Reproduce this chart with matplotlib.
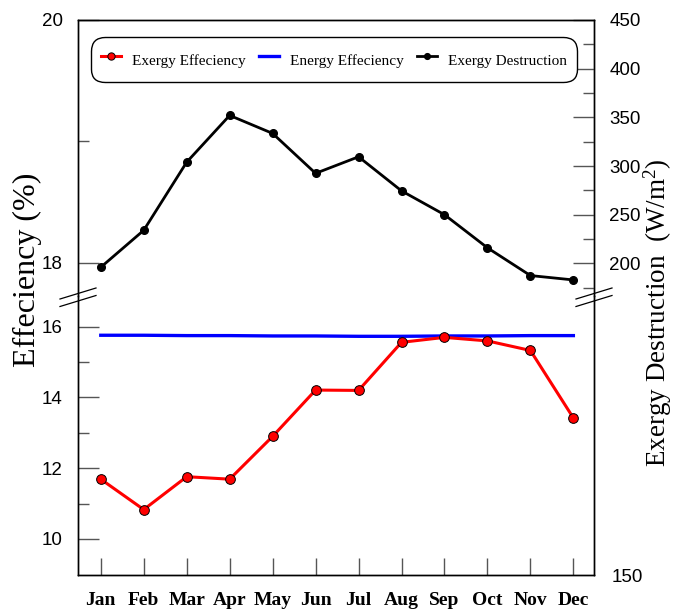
import matplotlib
matplotlib.use('Agg')
import matplotlib.pyplot as plt
from matplotlib.ticker import FixedLocator, NullLocator
from matplotlib.lines import Line2D
from matplotlib.font_manager import FontProperties

plt.rcParams['mathtext.fontset'] = 'custom'
plt.rcParams['mathtext.rm'] = 'Liberation Serif'
plt.rcParams['mathtext.it'] = 'Liberation Serif:italic'
plt.rcParams['mathtext.bf'] = 'Liberation Serif:bold'

# ---- data ----
months = ['Jan', 'Feb', 'Mar', 'Apr', 'May', 'Jun', 'Jul', 'Aug', 'Sep', 'Oct', 'Nov', 'Dec']
exergy_eff = [11.69, 10.83, 11.76, 11.69, 12.90, 14.21, 14.20, 15.56, 15.70, 15.60, 15.33, 13.42]
energy_eff = [15.76, 15.76, 15.75, 15.75, 15.74, 15.74, 15.73, 15.73, 15.74, 15.74, 15.75, 15.75]
exergy_dest = [196, 234, 304, 352, 333.5, 292.5, 309.5, 274.5, 250, 216, 187.5, 183]

left_top_major = [18, 20]
left_top_minor = [19]
left_bot_major = [10, 12, 14, 16]
left_bot_minor = [11, 13, 15]
right_major = [200, 250, 300, 350, 400, 450]
right_minor = [175, 225, 275, 325, 375, 425]
right_bot_tick = [150]

W, H = 675, 614
fig = plt.figure(figsize=(W / 100, H / 100), dpi=100)

xl, xr = 78, 594
yt, yb_, yb = 20, 296, 575
ax_top = fig.add_axes([xl / W, 1 - yb_ / H, (xr - xl) / W, (yb_ - yt) / H])
ax_bot = fig.add_axes([xl / W, 1 - yb / H, (xr - xl) / W, (yb - yb_) / H])
ax_top_r = ax_top.twinx()
ax_bot_r = ax_bot.twinx()

x = list(range(len(months)))

tick_font = FontProperties(family='Liberation Sans', size=13.5)
serif = 'Liberation Serif'
tick_col = '#555555'

# lines
l_exd, = ax_top_r.plot(x, exergy_dest, color='black', lw=2.0, marker='o', ms=5.5,
                       mfc='black', mec='black', zorder=3)
l_en, = ax_bot.plot(x, energy_eff, color='#0000ff', lw=2.4, zorder=2)
l_ex, = ax_bot.plot(x, exergy_eff, color='#ff0000', lw=2.2, marker='o', ms=7,
                    mfc='#ff0000', mec='black', mew=0.7, zorder=3)

for a in (ax_top, ax_bot, ax_top_r, ax_bot_r):
    a.set_xlim(-0.53, 11.48)
    for s in a.spines.values():
        s.set_linewidth(1.0)
        s.set_color('black')

ax_top.set_ylim(17.725, 20)
ax_bot.set_ylim(8.98, 16.87)
ax_top_r.set_ylim(166.5, 450)
ax_bot_r.set_ylim(150, 400)

# spines at the break
for a in (ax_top, ax_top_r):
    a.spines['bottom'].set_visible(False)
for a in (ax_bot, ax_bot_r):
    a.spines['top'].set_visible(False)

# x ticks
for a in (ax_top, ax_top_r):
    a.tick_params(axis='x', which='both', bottom=False, top=False, labelbottom=False)
ax_bot_r.tick_params(axis='x', which='both', bottom=False, top=False, labelbottom=False)
ax_bot.set_xticks(x)
ax_bot.set_xticklabels(months, fontfamily=serif, fontweight='bold', fontsize=14)
ax_bot.tick_params(axis='x', which='major', direction='in', length=12, width=1,
                   color=tick_col, pad=12.5, top=False)
ax_bot.xaxis.set_minor_locator(NullLocator())

# left y ticks
ax_top.yaxis.set_major_locator(FixedLocator(left_top_major))
ax_top.yaxis.set_minor_locator(FixedLocator(left_top_minor))
ax_bot.yaxis.set_major_locator(FixedLocator(left_bot_major))
ax_bot.yaxis.set_minor_locator(FixedLocator(left_bot_minor))
for a in (ax_top, ax_bot):
    a.tick_params(axis='y', which='major', direction='in', length=15, width=1,
                  color=tick_col, pad=11, right=False)
    a.tick_params(axis='y', which='minor', direction='in', length=8, width=1,
                  color=tick_col, right=False)
    for lab in a.get_yticklabels():
        lab.set_fontproperties(tick_font)

# right y ticks
ax_top_r.yaxis.set_major_locator(FixedLocator(right_major))
ax_top_r.yaxis.set_minor_locator(FixedLocator(right_minor))
ax_top_r.tick_params(axis='y', which='major', direction='in', length=15, width=1,
                     color=tick_col, pad=11)
ax_top_r.tick_params(axis='y', which='minor', direction='in', length=8, width=1,
                     color=tick_col)
ax_bot_r.yaxis.set_major_locator(FixedLocator(right_bot_tick))
ax_bot_r.yaxis.set_minor_locator(NullLocator())
ax_bot_r.tick_params(axis='y', which='major', direction='in', length=0, pad=13)
for a in (ax_top_r, ax_bot_r):
    for lab in a.get_yticklabels():
        lab.set_fontproperties(tick_font)
    a.tick_params(axis='y', left=False)

# break marks (figure pixel geometry)
def px_line(x0, y0, x1, y1):
    fig.add_artist(Line2D([x0 / W, x1 / W], [1 - y0 / H, 1 - y1 / H],
                          transform=fig.transFigure, color='black', lw=0.9))

for cx in (xl, xr):
    for cy in (293.5, 301.0):
        px_line(cx - 18, cy + 5.5, cx + 18, cy - 5.5)

# axis labels
fig.text(27 / W, 1 - 270 / H, 'Effeciency (%)', rotation=90, ha='center', va='center',
         fontfamily=serif, fontsize=23)
fig.text(658 / W, 1 - 313 / H, 'Exergy Destruction  (W/m$^{2}$)', rotation=90,
         ha='center', va='center', fontfamily=serif, fontsize=19.5)

# legend
leg = fig.legend([l_ex, l_en, l_exd],
                 ['Exergy Effeciency', 'Energy Effeciency', 'Exergy Destruction'],
                 loc='upper center', bbox_to_anchor=(334 / W, 1 - 37 / H), ncol=3,
                 frameon=True, fancybox=True, framealpha=1, edgecolor='black',
                 prop=FontProperties(family=serif, size=11), handlelength=1.35,
                 handletextpad=0.7, columnspacing=0.85, borderpad=0.65,
                 handleheight=2.2, borderaxespad=0, markerscale=0.75)
leg.get_frame().set_linewidth(1.0)
leg.get_frame().set_boxstyle('round,pad=0,rounding_size=0.9')

fig.savefig('out.png', dpi=100)
